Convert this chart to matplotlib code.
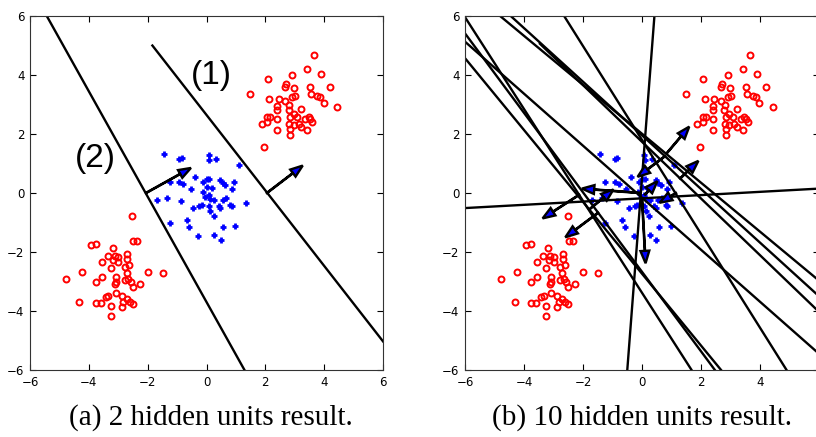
import numpy as np
import matplotlib.pyplot as plt

# red class: two blobs (upper right, lower left)
red_x = [3.66, 3.41, 3.89, 2.92, 2.08, 4.20, 2.70, 2.67, 2.99, 3.52, 3.56, 1.48, 2.14, 2.45,
         2.91, 3.02, 3.75, 3.86, 3.98, 4.44, 2.67, 2.82, 2.39, 2.39, 2.79, 3.22, 2.96, 2.05,
         2.16, 2.41, 2.84, 3.07, 3.47, 3.52, 3.35, 1.88, 2.05, 2.82, 2.96, 3.13, 3.58, 2.84,
         3.22, 3.41, 2.39, 2.84, 1.97,
         -2.52, -3.94, -3.77, -2.49, -2.35, -3.19, -3.36, -3.11, -3.00, -2.69, -2.69, -3.17,
         -3.00, -3.56, -2.62, -3.26, -4.24, -4.79, -3.56, -3.09, -2.71, -2.00, -1.49, -3.77,
         -3.09, -3.11, -2.77, -2.66, -2.58, -2.51, -2.26, -3.34, -3.41, -3.07, -2.88, -2.71,
         -2.83, -2.60, -2.51, -4.32, -3.76, -3.59, -3.26, -2.88, -3.24, -2.77]
red_y = [4.68, 4.21, 4.02, 3.99, 3.88, 3.59, 3.70, 3.59, 3.55, 3.60, 3.36, 3.37, 3.20, 3.18,
         3.26, 3.29, 3.29, 3.26, 3.05, 2.92, 3.11, 3.00, 2.95, 2.81, 2.81, 2.84, 2.67, 2.58,
         2.58, 2.52, 2.58, 2.58, 2.58, 2.50, 2.52, 2.35, 2.41, 2.35, 2.30, 2.35, 2.41, 2.18,
         2.24, 2.15, 2.12, 1.96, 1.56,
         -0.77, -1.76, -1.73, -1.62, -1.64, -1.88, -2.13, -2.13, -2.16, -2.07, -2.22, -2.27,
         -2.35, -2.33, -2.44, -2.53, -2.69, -2.90, -2.86, -2.86, -2.72, -2.69, -2.72, -3.01,
         -3.01, -3.09, -2.94, -2.92, -3.01, -3.20, -3.07, -3.49, -3.54, -3.39, -3.49, -3.58,
         -3.69, -3.71, -3.75, -3.68, -3.73, -3.73, -3.83, -3.88, -4.17, -2.52]

# blue class: centre blob
blue_x = [-1.43, -0.93, -0.84, 0.07, 0.10, 0.33, 1.09, -0.39, -1.24, -0.93, -0.79, -0.11,
          0.01, 0.10, 0.46, 0.92, 0.63, 0.86, -0.53, 0.01, 0.18, -0.13, -1.69, -1.35, -0.86,
          0.07, 0.12, 0.55, 0.67, 0.80, 0.86, 1.34, -0.45, -0.24, -0.16, 0.07, 0.41, 0.46,
          0.12, 0.24, -0.67, -1.24, -0.58, 0.57, 0.97, -0.28, 0.26, 0.49, -0.05, 0.27, 0.55]
blue_y = [1.33, 1.16, 1.19, 1.28, 1.13, 1.14, 0.94, 0.56, 0.39, 0.37, 0.30, 0.39, 0.46, 0.48,
          0.43, 0.39, 0.26, 0.12, 0.14, 0.20, 0.16, 0.05, -0.23, -0.18, -0.26, -0.08, -0.20,
          -0.22, -0.18, -0.40, -0.45, -0.35, -0.52, -0.45, -0.40, -0.43, -0.43, -0.52, -0.60,
          -0.77, -0.90, -1.03, -1.14, -1.16, -1.11, -1.47, -1.42, -1.59, -0.14, -0.23, 0.35]

# hidden unit boundaries (x0, y0, x1, y1) and normal arrows (x, y, dx, dy)
lines_2 = [(-5.43, 6.0, 1.29, -6.0), (-1.84, 5.0, 6.0, -5.03)]
arrows_2 = [(-2.06, 0.0, 1.53, 0.85), (2.05, 0.0, 1.22, 0.93)]
labels_2 = ['(1)', '(2)']

lines_10 = [(0.42, 6.0, -0.50, -6.0), (-6.0, -0.51, 6.0, 0.15),
            (-6.0, 5.96, 1.68, -6.0), (-6.0, 5.41, 2.47, -6.0),
            (-6.0, 4.57, 2.68, -6.0), (-6.0, 5.13, 6.0, -5.45),
            (-4.81, 6.0, 6.0, -2.97), (-4.45, 6.0, 6.0, -3.5),
            (-3.46, 5.06, 6.0, -4.03), (-2.64, 6.0, 4.90, -6.0)]
arrows_10 = [(0.84, 1.35, 0.76, 0.90), (1.29, 0.49, 0.62, 0.60),
             (0.78, 1.25, -0.93, -0.70), (0.0, -0.18, 0.12, -2.20),
             (-0.05, 0.0, -1.99, 0.15), (-1.78, -0.55, 0.81, 0.67),
             (-1.49, -0.67, -1.11, -0.83), (-2.13, -0.06, -1.24, -0.80),
             (0.10, -0.05, 0.42, 0.45), (1.15, 0.0, -0.55, -0.33)]

captions = ['(a) 2 hidden units result.', '(b) 10 hidden units result.']
ticks = [-6, -4, -2, 0, 2, 4, 6]


def draw_panel(ax, lines, arrows):
    ax.plot(red_x, red_y, 'o', ms=4.3, mfc='none', mec='r', mew=1.4)
    ax.plot(blue_x, blue_y, '+', ms=4.5, mew=2.0, color='b')
    for x0, y0, x1, y1 in lines:
        ax.plot([x0, x1], [y0, y1], color='k', lw=1.7)
    for x, y, dx, dy in arrows:
        ax.arrow(x, y, dx, dy, width=0.012, head_width=0.3, head_length=0.42,
                 length_includes_head=True, fc='b', ec='k', lw=1.7, zorder=4)
    ax.set_xlim(-6, 6)
    ax.set_ylim(-6, 6)
    ax.set_xticks(ticks)
    ax.set_yticks(ticks)
    ax.tick_params(direction='in', top=True, right=True, length=4, width=0.8,
                   labelsize=8.5, pad=4)
    for s in ax.spines.values():
        s.set_linewidth(0.8)
        s.set_color('#333333')


fig = plt.figure(figsize=(8.16, 4.37), dpi=100)
ax1 = fig.add_axes([0.0368, 0.1533, 0.4326, 0.810])
ax2 = fig.add_axes([0.5699, 0.1533, 0.4338, 0.810])

draw_panel(ax1, lines_2, arrows_2)
draw_panel(ax2, lines_10, arrows_10)
# right panel runs past the figure edge, so its last x label is not shown
ax2.set_xticklabels([f'\u2212{-t}' if t < 0 else str(t) for t in ticks[:-1]] + [''])

ax1.text(0.15, 3.99, labels_2[0], fontsize=24, family='Liberation Sans',
         ha='center', va='center')
ax1.text(-3.79, 1.16, labels_2[1], fontsize=24, family='Liberation Sans',
         ha='center', va='center')

fig.text(0.259, 0.045, captions[0], fontsize=21, family='Liberation Serif',
         ha='center', va='center')
fig.text(0.787, 0.045, captions[1], fontsize=21, family='Liberation Serif',
         ha='center', va='center')

fig.savefig('out.png', dpi=100)
